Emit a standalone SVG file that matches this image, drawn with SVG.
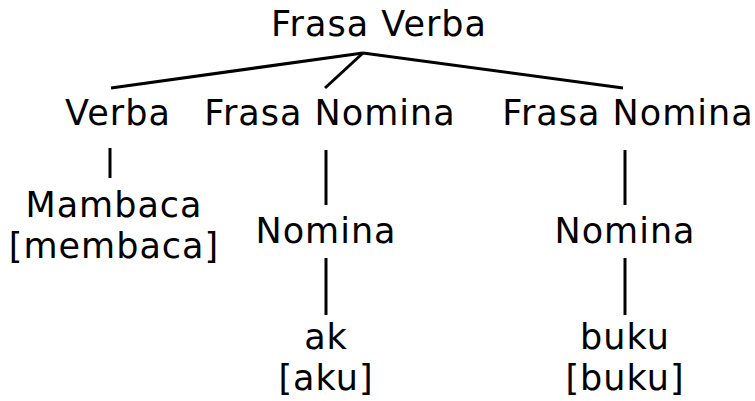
<svg xmlns="http://www.w3.org/2000/svg" width="755" height="401" viewBox="0 0 755 401">
  <style>
    .lbl { font-family: "DejaVu Sans", "Liberation Sans", sans-serif; font-size: 35px; letter-spacing: 1px; fill: #000; text-anchor: middle; }
    .edge { stroke: #000; stroke-width: 3; fill: none; stroke-linecap: butt; }
  </style>
  <rect width="755" height="401" fill="#fff"/>
  <g id="connectors">
    <line class="edge" x1="363" y1="53" x2="111" y2="88"/>
    <line class="edge" x1="363" y1="53" x2="325" y2="88"/>
    <line class="edge" x1="363" y1="53" x2="623" y2="88"/>
    <line class="edge" x1="110" y1="148" x2="110" y2="178"/>
    <line class="edge" x1="326" y1="150" x2="326" y2="205"/>
    <line class="edge" x1="326" y1="258" x2="326" y2="315"/>
    <line class="edge" x1="625" y1="150" x2="625" y2="205"/>
    <line class="edge" x1="625" y1="258" x2="625" y2="315"/>
  </g>
  <g id="frasa-verba"><text class="lbl" x="379" y="36">Frasa Verba</text></g>
  <g id="verba"><text class="lbl" x="118" y="125">Verba</text></g>
  <g id="frasa-nomina-1"><text class="lbl" x="330" y="125">Frasa Nomina</text></g>
  <g id="frasa-nomina-2"><text class="lbl" x="628" y="125">Frasa Nomina</text></g>
  <g id="mambaca"><text class="lbl" x="114" y="217">Mambaca</text><text class="lbl" x="114" y="258">[membaca]</text></g>
  <g id="nomina-1"><text class="lbl" x="326" y="243">Nomina</text></g>
  <g id="nomina-2"><text class="lbl" x="625" y="243">Nomina</text></g>
  <g id="ak"><text class="lbl" x="326" y="349">ak</text><text class="lbl" x="326" y="390">[aku]</text></g>
  <g id="buku"><text class="lbl" x="625" y="349">buku</text><text class="lbl" x="625" y="390">[buku]</text></g>
</svg>
